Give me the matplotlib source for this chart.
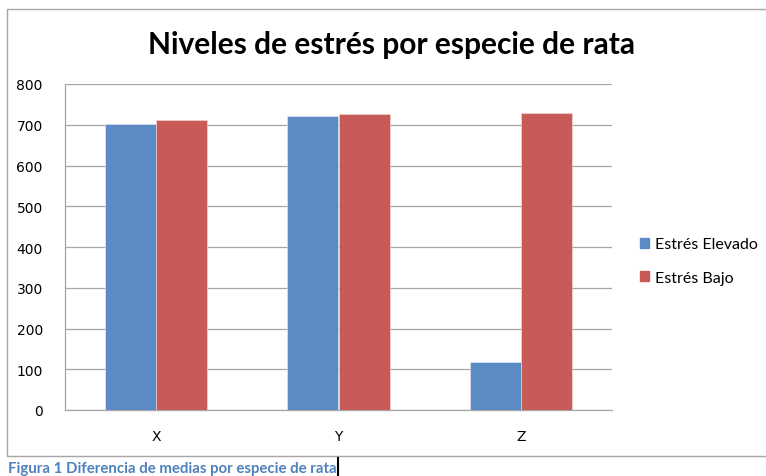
"""Grouped bar chart of stress levels by rat species."""

import matplotlib.pyplot as plt
import numpy as np
from matplotlib.lines import Line2D
from matplotlib.patches import Rectangle

species = ["X", "Y", "Z"]
estres_elevado = [702, 722, 118]
estres_bajo = [712, 726, 728]
series_labels = ["Estrés Elevado", "Estrés Bajo"]
y_ticks = [0, 100, 200, 300, 400, 500, 600, 700, 800]

BLUE = "#5B8AC5"
RED = "#C85A57"
GRID = "#A6A6A6"

W, H = 766, 477
fig = plt.figure(figsize=(W / 100, H / 100), dpi=100)
fig.patch.set_facecolor("white")

# outer chart frame (its right edge is cropped off)
fig.patches.append(Rectangle((7 / W, (H - 457) / H), 1.2, (457 - 10) / H,
                             transform=fig.transFigure, fill=False,
                             edgecolor=GRID, linewidth=1.0, zorder=0))

ax = fig.add_axes([65 / W, (H - 411) / H, (612 - 65) / W, (411 - 85) / H])

x = np.arange(len(species))
width = 0.28
ax.bar(x - width / 2, estres_elevado, width, color=BLUE, edgecolor="#E8EEF7",
       linewidth=0.4, label=series_labels[0], zorder=3)
ax.bar(x + width / 2, estres_bajo, width, color=RED, edgecolor="#F3DDDC",
       linewidth=0.4, label=series_labels[1], zorder=3)

ax.set_xlim(-0.5, 2.5)
ax.set_ylim(0, 800)
ax.set_yticks(y_ticks)
ax.set_xticks(x)
ax.set_xticklabels(species)
ax.yaxis.grid(True, color=GRID, linewidth=0.9, zorder=0)
ax.set_axisbelow(True)
for side in ("top", "right"):
    ax.spines[side].set_visible(False)
for side in ("left", "bottom"):
    ax.spines[side].set_color(GRID)
    ax.spines[side].set_linewidth(0.9)
ax.tick_params(axis="both", length=0, labelsize=10, colors="black")
ax.tick_params(axis="y", pad=16)
ax.tick_params(axis="x", pad=14)

fig.text(392 / W, 1 - 45 / H, "Niveles de estrés por especie de rata",
         ha="center", va="center", fontsize=21.5, fontweight="bold",
         family="Lato")

handles = [Rectangle((0, 0), 1, 1, color=BLUE), Rectangle((0, 0), 1, 1, color=RED)]
fig.legend(handles, series_labels, loc="center left",
           bbox_to_anchor=(626 / W, 1 - 262 / H), frameon=False,
           handlelength=0.55, handleheight=0.55,
           handletextpad=0.35, labelspacing=1.2, prop={"family": "Lato", "size": 11.5})

fig.text(8 / W, 1 - 469 / H, "Figura 1 Diferencia de medias por especie de rata",
         ha="left", va="center", fontsize=10.8, fontweight="bold",
         color="#4F81BD", family="Lato")
fig.add_artist(Line2D([338 / W, 338 / W], [1 - 477 / H, 1 - 459 / H],
                      transform=fig.transFigure, color="black", linewidth=1.5))

fig.savefig("out.png", dpi=100)
